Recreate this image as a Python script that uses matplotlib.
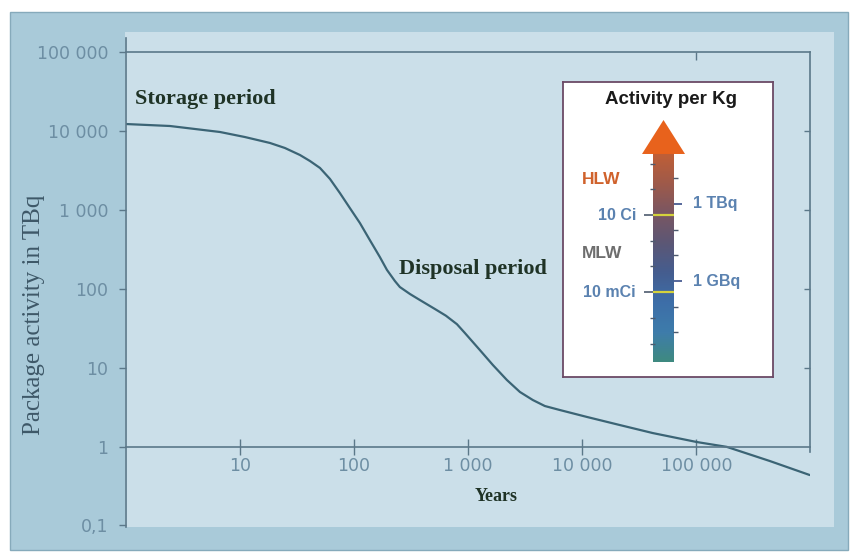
import numpy as np
import matplotlib.pyplot as plt
from matplotlib.patches import Rectangle, Polygon
from matplotlib.colors import LinearSegmentedColormap

# decay curve of a waste package
annees = [1, 2.45, 6.72, 11.1, 18.4, 24.9, 33.7, 41.3, 50.5, 61.8, 75.5, 92.4,
          113, 138, 169, 195, 229, 253, 310, 378, 513, 640, 800, 938, 1270, 1650,
          2190, 2850, 3700, 4710, 6380, 11000, 21400, 41600, 100900, 184600,
          440000, 985000]
activite = [12220, 11530, 9680, 8360, 7030, 6070, 4950, 4150, 3390, 2460, 1630, 1050,
            680, 414, 252, 173, 125, 105, 85.7, 72, 55.3, 45.5, 35.5, 27.5, 16.7, 10.8,
            6.97, 4.91, 3.88, 3.26, 2.90, 2.37, 1.87, 1.48, 1.14, 0.99,
            0.655, 0.435]

x_ticks = [10, 100, 1000, 10000, 100000]
x_labels = ["10", "100", "1 000", "10 000", "100 000"]
y_ticks = [0.1, 1, 10, 100, 1000, 10000, 100000]
y_labels = ["0,1", "1", "10", "100", "1 000", "10 000", "100 000"]

# inset scale: activity per kg (Bq on the right, Ci on the left)
BQ_PAR_CI = 3.7e10
bq_ticks = [1e7, 1e8, 1e9, 1e10, 1e11, 1e12, 1e13]
bq_noms = {1e12: "1 TBq", 1e9: "1 GBq"}
ci_ticks = [1e-4, 1e-3, 1e-2, 1e-1, 1, 10, 100, 1000]
ci_noms = {10: "10 Ci", 0.01: "10 mCi"}
classes = ["HLW", "MLW"]
classes_niveau = [12.97, 10.09]   # log10(Bq/kg) where the class name sits
classes_couleur = ["#d0622c", "#6e6e6e"]
degrade = ["#c05f36", "#9f5a4a", "#7a5662", "#5c5775", "#455d8f",
           "#3d6ea8", "#3e7cab", "#3f8a80"]

W, H = 853, 560


def boite(x0, y0, x1, y1):
    """Pixel box (top-left origin) -> figure fraction rect."""
    return [x0 / W, 1 - y1 / H, (x1 - x0) / W, (y1 - y0) / H]


fig = plt.figure(figsize=(W / 100, H / 100), dpi=100)
fig.patch.set_facecolor("white")

# panels behind the chart
r = boite(10, 12, 848, 550)
fig.add_artist(Rectangle(r[:2], r[2], r[3], transform=fig.transFigure,
                         facecolor="#a9cad9", edgecolor="#86aabb", lw=1, zorder=-10))
r = boite(125, 32, 834, 527)
fig.add_artist(Rectangle(r[:2], r[2], r[3], transform=fig.transFigure,
                         facecolor="#cbdfe9", edgecolor="none", zorder=-9))

couleur_axe = "#5b7889"
couleur_ticks = "#6d8ea3"

ax = fig.add_axes(boite(125.5, 38, 810.5, 527))
ax.patch.set_alpha(0)
ax.set_xscale("log")
ax.set_yscale("log")
xlim = (1, 1e6)
ylim = (10 ** -1.02, 10 ** 5.177)
ax.set_xlim(*xlim)
ax.set_ylim(*ylim)

ax.plot(annees, activite, color="#3b6475", lw=1.6, solid_capstyle="round",
        solid_joinstyle="round")

ax.minorticks_off()
ax.set_yticks(y_ticks, y_labels)
ax.set_xticks(x_ticks, x_labels)
ax.spines["top"].set_visible(False)
ax.spines["right"].set_visible(False)
ax.spines["bottom"].set_position(("data", 1))
for s in ["left", "bottom"]:
    ax.spines[s].set_color(couleur_axe)
    ax.spines[s].set_linewidth(1.2)
ax.tick_params(axis="y", direction="out", length=5, width=1, color=couleur_axe,
               labelcolor=couleur_ticks, labelsize=12.5, pad=7.5)
ax.tick_params(axis="x", direction="inout", length=11, width=1, color=couleur_axe,
               labelcolor=couleur_ticks, labelsize=12.5, pad=2)

# top line at 100 000 with its single tick
haut = ax.twiny()
haut.set_xscale("log")
haut.set_xlim(*xlim)
haut.minorticks_off()
haut.set_xticks([100000], [""])
for s in ["left", "right", "bottom"]:
    haut.spines[s].set_visible(False)
haut.spines["top"].set_position(("data", 100000))
haut.spines["top"].set_color(couleur_axe)
haut.spines["top"].set_linewidth(1.2)
haut.tick_params(direction="in", length=6, width=1, color=couleur_axe)

# right border between 1 and 100 000
droite = ax.twinx()
droite.set_yscale("log")
droite.set_ylim(*ylim)
droite.minorticks_off()
droite.set_yticks([10, 100, 1000, 10000], ["", "", "", ""])
for s in ["left", "top", "bottom"]:
    droite.spines[s].set_visible(False)
droite.spines["right"].set_bounds(0.85, 100000)
droite.spines["right"].set_color(couleur_axe)
droite.spines["right"].set_linewidth(1.2)
droite.tick_params(direction="in", length=4, width=1, color=couleur_axe)

serif = "Liberation Serif"
ax.text(1.2, 10 ** 4.40, "Storage period", family=serif, weight="bold",
        fontsize=16, color="#1f3326", va="center")
ax.text(10 ** 2.4, 10 ** 2.25, "Disposal period", family=serif, weight="bold",
        fontsize=16, color="#1f3326", va="center")
ax.text(10 ** 3.25, 10 ** -0.63, "Years", family=serif, weight="bold",
        fontsize=13, color="#1f3326", ha="center", va="center")
fig.text(34 / W, 1 - 315 / H, "Package activity in TBq", family=serif,
         fontsize=18, color="#3e5868", rotation=90, ha="center", va="center")

# inset: activity per kg
ax2 = fig.add_axes(boite(563, 82, 773, 377))
ax2.set_facecolor("white")
for s in ax2.spines.values():
    s.set_color("#6b4a66")
    s.set_linewidth(1.3)
ax2.set_xticks([])
ax2.set_yticks([])

bar_g, bar_d = 0.4286, 0.5286
fleche_bas, tete_base, tete_pointe = 5.852, 13.946, 15.268
cmap = LinearSegmentedColormap.from_list("activite", degrade)
grad = np.linspace(0, 1, 256).reshape(-1, 1)
ax2.imshow(grad, cmap=cmap, aspect="auto", origin="upper",
           extent=[bar_g, bar_d, fleche_bas, tete_base], zorder=2)
ax2.add_patch(Polygon([[0.3762, tete_base], [0.581, tete_base], [0.4786, tete_pointe]],
                      closed=True, facecolor="#e8621c", edgecolor="none", zorder=3))
ax2.set_xlim(0, 1)
ax2.set_ylim(5.268, 16.747)

sans = "Liberation Sans"
ax2.text(0.514, 0.939, "Activity per Kg", transform=ax2.transAxes, ha="center",
         va="center", family=sans, weight="bold", fontsize=13.5, color="#1a1a1a")

for nom, niv, c in zip(classes, classes_niveau, classes_couleur):
    ax2.text(0.09, niv, nom, ha="left", va="center", family=sans, weight="bold",
             fontsize=12.5, color=c)

couleur_graduation = "#4e5b6e"
for v in bq_ticks:
    y = np.log10(v)
    if v in bq_noms:
        ax2.hlines(y, bar_d, 0.567, color="#3a4f8a", lw=1.2, zorder=4)
        ax2.text(0.619, y, bq_noms[v], ha="left", va="center", family=sans,
                 weight="bold", fontsize=11.5, color="#5b82b0")
    else:
        ax2.hlines(y, bar_d - 0.005, 0.548, color=couleur_graduation, lw=1, zorder=4)

for v in ci_ticks:
    y = np.log10(v * BQ_PAR_CI)
    if v in ci_noms:
        ax2.hlines(y, 0.386, bar_g, color=couleur_graduation, lw=1.2, zorder=4)
        ax2.hlines(y, bar_g, bar_d, color="#d4d23c", lw=1.6, zorder=4)
        ax2.text(0.3476, y, ci_noms[v], ha="right", va="center", family=sans,
                 weight="bold", fontsize=11.5, color="#5b82b0")
    else:
        ax2.hlines(y, 0.414, bar_g + 0.01, color=couleur_graduation, lw=1, zorder=4)

fig.savefig("out.png", dpi=100)
